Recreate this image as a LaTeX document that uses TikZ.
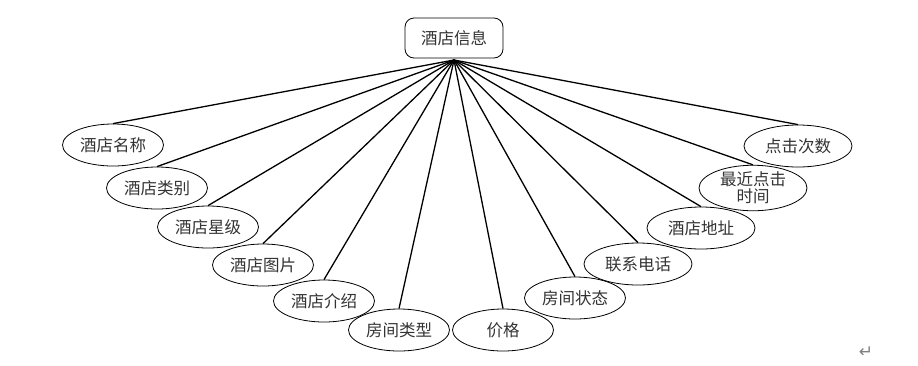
\documentclass[tikz,border=0pt]{standalone}
\usepackage{fontspec}
\newfontfamily\cjk{Noto Sans CJK SC}
\newfontfamily\dejavu{DejaVu Sans}
\usetikzlibrary{shapes.geometric}
\begin{document}
\begin{tikzpicture}[x=1pt,y=-1pt,
  attr/.style={ellipse,draw,line width=0.8pt,minimum width=101pt,minimum height=42pt,inner sep=0pt,font=\cjk\fontsize{16.5}{17}\selectfont,text=black!80},
  wattr/.style={attr,minimum width=108pt},
  rootbox/.style={draw,rounded corners=9pt,line width=0.8pt,minimum width=98pt,minimum height=40pt,font=\cjk\fontsize{16.5}{17}\selectfont,text=black!80},
  link/.style={line width=1.3pt}]
\useasboundingbox (0,0) rectangle (918,365);
\node[rootbox] (root) at (454,38) {酒店信息};
\coordinate (hub) at (454,60);
\node[attr] (a1) at (113,145) {酒店名称};
\node[attr] (a2) at (157,188) {酒店类别};
\node[attr] (a3) at (208,227) {酒店星级};
\node[attr] (a4) at (263,265) {酒店图片};
\node[attr] (a5) at (324,301) {酒店介绍};
\node[attr] (a6) at (399,330) {房间类型};
\node[attr] (a7) at (503,330) {价格};
\node[attr] (a8) at (575,298) {房间状态};
\node[wattr] (a9) at (638,264) {联系电话};
\node[wattr] (a10) at (701,228) {酒店地址};
\node[wattr,align=center] (a11) at (753,188) {\fontsize{16.5}{18}\selectfont 最近点击\\时间};
\node[wattr] (a12) at (798,146) {点击次数};
\foreach \n in {a1,a2,a3,a4,a5,a6,a7,a8,a9,a10,a11,a12}
  \draw[link] (hub) -- (\n.north);
\node[font=\dejavu\fontsize{17}{18}\selectfont,text=black!50] (ret) at (866,352) {↵};
\end{tikzpicture}
\end{document}
